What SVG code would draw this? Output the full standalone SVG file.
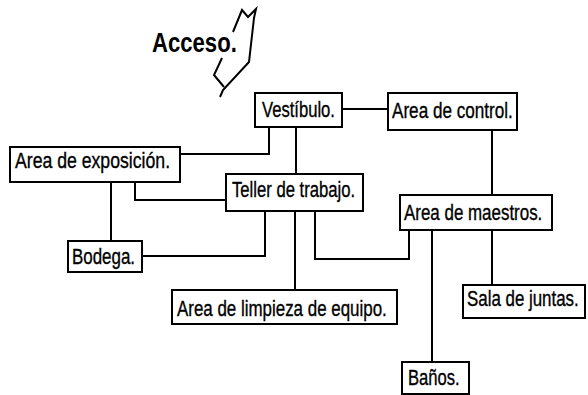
<svg xmlns="http://www.w3.org/2000/svg" width="588" height="395" viewBox="0 0 588 395">
<style>
.box{fill:#fff;stroke:#000;stroke-width:2}
.lbl{font-family:"Liberation Sans",Arial,sans-serif;font-size:22px;fill:#000;stroke:#000;stroke-width:0.35}
.con{fill:none;stroke:#000;stroke-width:2}
</style>
<rect width="588" height="395" fill="#fff"/>
<g id="acceso">
<text transform="translate(152,52) scale(0.8,1)" font-family="Liberation Sans,Arial,sans-serif" font-weight="bold" font-size="28" textLength="106" lengthAdjust="spacingAndGlyphs">Acceso.</text>
<polyline class="con" points="233,32 242,10 248,17 256,9 254,18 249,62 223,90 220,97"/>
<polyline class="con" points="222,58 214,75 224,87"/>
</g>
<g id="connectors">
<line class="con" x1="342" y1="109" x2="388" y2="109"/>
<line class="con" x1="492" y1="130" x2="492" y2="195"/>
<line class="con" x1="492" y1="230" x2="492" y2="285"/>
<polyline class="con" points="269,127 269,154 180,154"/>
<line class="con" x1="296" y1="127" x2="296" y2="174"/>
<polyline class="con" points="135,182 135,200 226,200"/>
<line class="con" x1="111" y1="182" x2="111" y2="241"/>
<polyline class="con" points="265,211 265,256 142,256"/>
<line class="con" x1="295" y1="211" x2="295" y2="290"/>
<polyline class="con" points="315,211 315,259 409,259 409,230"/>
<line class="con" x1="432" y1="230" x2="432" y2="362"/>
</g>
<g id="vestibulo"><rect class="box" x="255" y="93" width="87" height="34"/><text class="lbl" transform="translate(262,117) scale(0.76,1)" textLength="96" lengthAdjust="spacingAndGlyphs">Vestíbulo.</text></g>
<g id="control"><rect class="box" x="388" y="93" width="129" height="37"/><text class="lbl" transform="translate(392,118) scale(0.76,1)" textLength="159" lengthAdjust="spacingAndGlyphs">Area de control.</text></g>
<g id="exposicion"><rect class="box" x="10" y="147" width="170" height="35"/><text class="lbl" transform="translate(15,168) scale(0.76,1)" textLength="204" lengthAdjust="spacingAndGlyphs">Area de exposición.</text></g>
<g id="teller"><rect class="box" x="226" y="174" width="137" height="37"/><text class="lbl" transform="translate(232,197) scale(0.76,1)" textLength="162" lengthAdjust="spacingAndGlyphs">Teller de trabajo.</text></g>
<g id="maestros"><rect class="box" x="400" y="195" width="152" height="35"/><text class="lbl" transform="translate(404,220) scale(0.76,1)" textLength="182" lengthAdjust="spacingAndGlyphs">Area de maestros.</text></g>
<g id="bodega"><rect class="box" x="68" y="241" width="74" height="31"/><text class="lbl" transform="translate(72,264) scale(0.76,1)" textLength="83" lengthAdjust="spacingAndGlyphs">Bodega.</text></g>
<g id="limpieza"><rect class="box" x="172" y="290" width="225" height="34"/><text class="lbl" transform="translate(177,316) scale(0.76,1)" textLength="276" lengthAdjust="spacingAndGlyphs">Area de limpieza de equipo.</text></g>
<g id="juntas"><rect class="box" x="463" y="285" width="122" height="33"/><text class="lbl" transform="translate(467,306) scale(0.76,1)" textLength="147" lengthAdjust="spacingAndGlyphs">Sala de juntas.</text></g>
<g id="banos"><rect class="box" x="402" y="362" width="67" height="32"/><text class="lbl" transform="translate(408,385) scale(0.76,1)" textLength="68" lengthAdjust="spacingAndGlyphs">Baños.</text></g>
</svg>
